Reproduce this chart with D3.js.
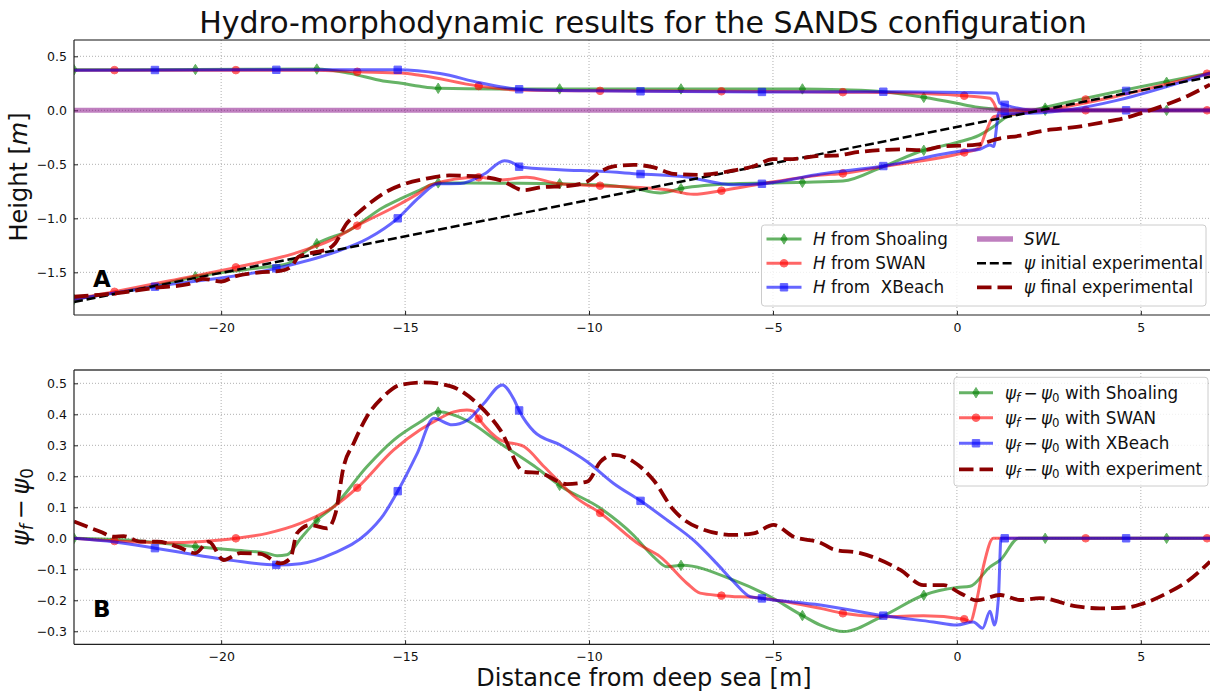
<!DOCTYPE html>
<html>
<head>
<meta charset="utf-8">
<script src="https://cdn.jsdelivr.net/npm/d3@7"></script>
<style>
  body { margin: 0; background: #fff; }
  svg { display: block; font-family: "DejaVu Sans", sans-serif; }
  text { white-space: pre; }
</style>
</head>
<body>
<svg id="chart" width="1210" height="693"></svg>
<script>
// ---------- axis limits and ticks ----------
const X_DOMAIN = [-24, 6.88];
const Y_DOMAIN_A = [-1.895, 0.651];
const Y_DOMAIN_B = [-0.342, 0.543];
const X_TICKS = [-20, -15, -10, -5, 0, 5];
const Y_TICKS_A = [0.5, 0.0, -0.5, -1.0, -1.5];
const Y_TICKS_B = [0.5, 0.4, 0.3, 0.2, 0.1, 0.0, -0.1, -0.2, -0.3];

// ---------- panel A: wave heights H (upper) and bed profiles psi (lower) ----------
const shoalingH = [[-24, 0.375], [-20.7, 0.378], [-17.4, 0.382], [-16.5, 0.342], [-15.6, 0.272], [-15.1, 0.25],
  [-14.6, 0.222], [-14.1, 0.204], [-12.5, 0.198], [-8, 0.198], [-4.2, 0.198], [-3.1, 0.19], [-2.0, 0.172],
  [-0.9, 0.12], [0, 0.065], [0.5, 0.032], [1.0, 0.012], [1.6, 0], [6.88, 0]];
const swanH = [[-24, 0.372], [-17.5, 0.372], [-16.3, 0.357], [-15.1, 0.345], [-14.6, 0.325], [-13.0, 0.225],
  [-11.9, 0.188], [-9.7, 0.18], [-6.4, 0.176], [-3.1, 0.168], [-2.0, 0.165], [0.2, 0.135], [0.9, 0.112],
  [1.0, 0.07], [1.1, 0.005], [1.4, 0], [6.88, 0]];
const xbeachH = [[-24, 0.372], [-18.5, 0.375], [-15.2, 0.375], [-14.05, 0.34], [-12.96, 0.255], [-11.9, 0.195],
  [-10, 0.18], [-8.6, 0.176], [-5.3, 0.17], [-2.0, 0.172], [0.18, 0.165], [1.08, 0.157], [1.17, 0.065],
  [1.31, 0.05], [1.8, 0.01], [2.2, 0], [6.88, 0]];

const shoalingPsi = [[-24, -1.75], [-22.9, -1.69], [-21.8, -1.625], [-20.7, -1.54], [-19.7, -1.49], [-19.0, -1.46],
  [-18.2, -1.42], [-17.8, -1.33], [-17.4, -1.235], [-16.5, -1.108], [-15.6, -0.9], [-15.1, -0.815], [-14.6, -0.738],
  [-14.1, -0.672], [-13.4, -0.672], [-12.4, -0.675], [-10.8, -0.68], [-9.7, -0.69], [-8.8, -0.722], [-8.06, -0.765],
  [-7.47, -0.722], [-6.07, -0.68], [-4.2, -0.667], [-3.1, -0.655], [-2.0, -0.52], [-0.9, -0.37], [0, -0.298],
  [0.6, -0.232], [1.0, -0.15], [1.35, -0.06], [1.7, -0.03], [6.88, 0.345]];
const swanPsi = [[-24, -1.75], [-22.9, -1.68], [-21.5, -1.585], [-19.6, -1.454], [-18.0, -1.324], [-17.0, -1.2],
  [-16.3, -1.068], [-15.1, -0.86], [-14.6, -0.76], [-14.3, -0.69], [-13.0, -0.62], [-12.4, -0.645], [-11.7, -0.62],
  [-10.8, -0.68], [-9.7, -0.698], [-7.9, -0.735], [-7.16, -0.778], [-6.4, -0.744], [-5.3, -0.68], [-3.7, -0.6],
  [-3.1, -0.584], [-2.0, -0.52], [0.2, -0.39], [0.6, -0.35], [0.8, -0.19], [1.0, -0.06], [1.3, -0.045],
  [1.7, -0.03], [6.88, 0.345]];
const xbeachPsi = [[-24, -1.75], [-21.8, -1.633], [-18.5, -1.463], [-17.0, -1.324], [-16.0, -1.185], [-15.2, -1.0],
  [-14.6, -0.8], [-14.1, -0.68], [-13.5, -0.678], [-12.85, -0.59], [-12.3, -0.466], [-12.05, -0.49], [-11.9, -0.522],
  [-10.8, -0.55], [-9.7, -0.565], [-8.6, -0.59], [-7.4, -0.615], [-6.07, -0.69], [-5.3, -0.68], [-3.7, -0.59],
  [-2.0, -0.516], [0.18, -0.375], [0.63, -0.36], [0.9, -0.32], [1.0, -0.336], [1.08, -0.15], [1.13, -0.02],
  [1.31, -0.03], [1.7, -0.03], [6.88, 0.345]];

const swl = [[-24, 0], [6.88, 0]];
const psiInitial = [[-24, -1.775], [6.88, 0.311]];
const psiFinal = [[-24, -1.726], [-22.9, -1.695], [-21.7, -1.64], [-20.9, -1.61], [-20.5, -1.56], [-20.0, -1.585],
  [-19.6, -1.535], [-19.0, -1.502], [-18.4, -1.487], [-18.1, -1.45], [-17.9, -1.356], [-17.5, -1.317], [-17.1, -1.285],
  [-16.9, -1.23], [-16.6, -1.053], [-16.3, -0.957], [-15.9, -0.844], [-15.5, -0.752], [-15.0, -0.68], [-14.5, -0.638],
  [-13.8, -0.603], [-13.1, -0.61], [-12.4, -0.648], [-11.77, -0.74], [-11.3, -0.713], [-10.6, -0.701], [-10.05, -0.659],
  [-9.69, -0.567], [-9.33, -0.52], [-8.79, -0.505], [-8.24, -0.528], [-7.7, -0.588], [-6.97, -0.597], [-6.07, -0.557],
  [-5.53, -0.518], [-5.0, -0.452], [-4.46, -0.451], [-3.71, -0.421], [-3.36, -0.42], [-2.64, -0.385], [-1.55, -0.362],
  [-0.92, -0.369], [-0.38, -0.333], [0.09, -0.327], [0.54, -0.318], [1.18, -0.26], [1.72, -0.235], [2.26, -0.194],
  [3.26, -0.153], [3.89, -0.116], [4.62, -0.066], [5.07, -0.02], [5.71, 0.055], [6.26, 0.131], [6.88, 0.238]];

// ---------- panel B: bed change psi_f - psi_0 ----------
const shoalingDiff = [[-24, 0], [-22.4, -0.007], [-20.67, -0.027], [-19.66, -0.038], [-18.75, -0.048], [-18.48, -0.056],
  [-18.21, -0.053], [-17.85, -0.002], [-17.39, 0.059], [-16.94, 0.102], [-16.04, 0.231], [-15.31, 0.317], [-14.59, 0.375],
  [-14.09, 0.408], [-13.32, 0.38], [-12.41, 0.306], [-11.5, 0.234], [-10.78, 0.169], [-9.69, 0.097], [-8.79, 0.01],
  [-8.25, -0.059], [-7.88, -0.092], [-7.47, -0.087], [-6.07, -0.135], [-5.16, -0.183], [-4.19, -0.25], [-3.71, -0.28],
  [-3.08, -0.301], [-2.0, -0.25], [-0.89, -0.183], [0, -0.159], [0.36, -0.155], [0.9, -0.092], [1.18, -0.07],
  [1.68, 0], [6.88, 0]];
const swanDiff = [[-24, 0], [-22.88, -0.009], [-21.47, -0.014], [-20.5, -0.01], [-19.59, 0.0], [-18.75, 0.016],
  [-17.85, 0.048], [-16.94, 0.102], [-16.29, 0.164], [-15.31, 0.285], [-14.59, 0.35], [-14.22, 0.376], [-13.68, 0.408],
  [-13.32, 0.414], [-13.15, 0.41], [-12.99, 0.384], [-12.41, 0.317], [-11.77, 0.296], [-11.22, 0.231], [-10.33, 0.129],
  [-9.69, 0.081], [-8.61, -0.022], [-8.07, -0.059], [-7.34, -0.145], [-6.98, -0.177], [-6.4, -0.185], [-5.3, -0.193],
  [-3.71, -0.226], [-3.1, -0.242], [-2.0, -0.253], [-0.91, -0.25], [0.2, -0.261], [0.36, -0.269], [0.54, -0.199],
  [0.72, -0.091], [0.99, 0], [6.88, 0]];
const xbeachDiff = [[-24, 0], [-22.9, -0.012], [-21.79, -0.032], [-20.56, -0.056], [-19.66, -0.072], [-18.48, -0.086],
  [-17.85, -0.082], [-16.94, -0.048], [-16.04, 0.016], [-15.59, 0.075], [-15.19, 0.154], [-14.67, 0.274], [-14.22, 0.387],
  [-13.72, 0.366], [-13.32, 0.38], [-12.86, 0.435], [-12.36, 0.495], [-12.05, 0.45], [-11.89, 0.41], [-11.5, 0.345],
  [-10.78, 0.301], [-10.05, 0.247], [-9.33, 0.177], [-8.59, 0.12], [-7.88, 0.059], [-7.16, -0.006], [-6.53, -0.081],
  [-6.07, -0.14], [-5.62, -0.188], [-5.3, -0.194], [-3.71, -0.215], [-1.98, -0.25], [-0.64, -0.27], [0, -0.28],
  [0.45, -0.27], [0.7, -0.29], [0.9, -0.235], [1.02, -0.28], [1.13, -0.19], [1.2, 0], [6.88, 0]];
const experimentDiff = [[-24, 0.054], [-23.28, 0.021], [-22.92, 0.005], [-22.65, 0.007], [-22.19, -0.011],
  [-21.73, -0.011], [-21.19, -0.027], [-20.7, -0.048], [-20.34, -0.011], [-19.93, -0.07], [-19.48, -0.048],
  [-18.93, -0.05], [-18.39, -0.081], [-18.12, -0.065], [-17.94, 0.016], [-17.58, 0.043], [-17.12, 0.032],
  [-16.89, 0.081], [-16.67, 0.231], [-16.4, 0.306], [-16.04, 0.392], [-15.59, 0.457], [-15.13, 0.495], [-14.49, 0.503],
  [-13.77, 0.491], [-13.04, 0.435], [-12.41, 0.349], [-11.77, 0.215], [-11.32, 0.21], [-10.6, 0.175], [-10.05, 0.183],
  [-9.69, 0.247], [-9.33, 0.269], [-8.79, 0.247], [-8.25, 0.188], [-7.7, 0.091], [-6.98, 0.032], [-6.07, 0.011],
  [-5.53, 0.016], [-4.98, 0.043], [-4.44, 0.005], [-3.71, -0.014], [-3.35, -0.036], [-2.63, -0.048], [-1.54, -0.102],
  [-0.91, -0.151], [-0.36, -0.151], [0.09, -0.177], [0.54, -0.2], [1.18, -0.183], [1.72, -0.199], [2.26, -0.193],
  [3.26, -0.22], [3.89, -0.226], [4.62, -0.223], [5.07, -0.21], [5.71, -0.177], [6.25, -0.14], [6.88, -0.075]];

// marker stations along the profile for each model
const markShoaling = [-24, -20.7, -17.4, -14.1, -10.8, -7.5, -4.2, -0.9, 2.4, 5.7];
const markSwan = [-22.9, -19.6, -16.3, -13.0, -9.7, -6.4, -3.1, 0.2, 3.5, 6.8];
const markXBeach = [-21.8, -18.5, -15.2, -11.9, -8.6, -5.3, -2.0, 1.3, 4.6];

// ---------- styles ----------
const GREEN = "#008000", RED = "#ff0000", BLUE = "#0000ff", PURPLE = "#800080", DARKRED = "#8b0000";
const MODEL_ALPHA = 0.6, MODEL_WIDTH = 3;

const svg = d3.select("#chart");
const x = d3.scaleLinear().domain(X_DOMAIN).range([74, 1210]);

function interp(data, xv) {
  for (let i = 0; i < data.length - 1; i++) {
    const [x0, y0] = data[i], [x1, y1] = data[i + 1];
    if (xv >= x0 && xv <= x1) return y0 + (y1 - y0) * (xv - x0) / (x1 - x0);
  }
  return data[data.length - 1][1];
}

function markerPath(shape) {
  if (shape === "diamond") return "M0,-5.2L3.2,0L0,5.2L-3.2,0Z";
  if (shape === "square") return "M-3.7,-3.7H3.7V3.7H-3.7Z";
  return d3.symbol(d3.symbolCircle, Math.PI * 3.8 * 3.8)();
}

function makePanel(id, yDomain, yRange, yTicks) {
  const y = d3.scaleLinear().domain(yDomain).range(yRange);
  const g = svg.append("g");
  const [x0, x1] = x.range();
  const [yb, yt] = yRange;
  svg.append("clipPath").attr("id", id).append("rect")
    .attr("x", x0).attr("y", yt).attr("width", x1 - x0).attr("height", yb - yt);

  // dotted grid
  const grid = g.append("g").attr("stroke", "#b0b0b0").attr("stroke-width", 1).attr("stroke-dasharray", "1,2");
  X_TICKS.forEach(t => grid.append("line").attr("x1", x(t)).attr("x2", x(t)).attr("y1", yt).attr("y2", yb));
  yTicks.forEach(t => grid.append("line").attr("x1", x0).attr("x2", x1).attr("y1", y(t)).attr("y2", y(t)));

  // axes with inward ticks
  const xAxis = d3.axisBottom(x).tickValues(X_TICKS).tickSizeInner(-4).tickSizeOuter(0).tickPadding(8)
    .tickFormat(d3.format("d"));
  const gx = g.append("g").attr("transform", `translate(0,${yb})`).call(xAxis);
  const yAxis = d3.axisLeft(y).tickValues(yTicks).tickSizeInner(-4).tickSizeOuter(0).tickPadding(7)
    .tickFormat(d3.format(".1f"));
  const gy = g.append("g").attr("transform", `translate(${x0},0)`).call(yAxis);
  [gx, gy].forEach(a => {
    a.selectAll("text").attr("font-size", 12.5).attr("font-family", "DejaVu Sans").attr("fill", "#111");
    a.selectAll(".tick line").attr("stroke", "#222");
    a.select(".domain").remove();
  });

  const plot = g.append("g").attr("clip-path", `url(#${id})`);
  return { g, plot, y, x0, x1, yt, yb };
}

function drawLine(p, data, color, opts = {}) {
  const line = d3.line().x(d => x(d[0])).y(d => p.y(d[1])).curve(opts.curve || d3.curveMonotoneX);
  p.plot.append("path").datum(data).attr("d", line)
    .attr("fill", "none").attr("stroke", color)
    .attr("stroke-width", opts.width || MODEL_WIDTH)
    .attr("stroke-opacity", opts.alpha == null ? MODEL_ALPHA : opts.alpha)
    .attr("stroke-dasharray", opts.dash || null)
    .attr("stroke-linejoin", "round");
}

function drawMarkers(p, data, stations, shape, color) {
  const d = markerPath(shape);
  p.plot.selectAll(null).data(stations.filter(s => s >= X_DOMAIN[0] && s <= X_DOMAIN[1])).enter()
    .append("path").attr("d", d)
    .attr("transform", s => `translate(${x(s)},${p.y(interp(data, s))})`)
    .attr("fill", color).attr("stroke", color).attr("stroke-width", 1).attr("opacity", MODEL_ALPHA);
}

function drawFrame(p, topColor, topWidth) {
  const f = p.g.append("g");
  f.append("line").attr("x1", p.x0).attr("x2", p.x1).attr("y1", p.yt).attr("y2", p.yt)
    .attr("stroke", topColor).attr("stroke-width", topWidth);
  f.append("line").attr("x1", p.x0).attr("x2", p.x1).attr("y1", p.yb).attr("y2", p.yb)
    .attr("stroke", "#222").attr("stroke-width", 1.2);
  f.append("line").attr("x1", p.x0).attr("x2", p.x0).attr("y1", p.yt).attr("y2", p.yb)
    .attr("stroke", "#222").attr("stroke-width", 1.2);
}

// ---------- panel A ----------
const A = makePanel("clipA", Y_DOMAIN_A, [315, 40], Y_TICKS_A);
[[shoalingH, shoalingPsi, markShoaling, "diamond", GREEN],
 [swanH, swanPsi, markSwan, "circle", RED],
 [xbeachH, xbeachPsi, markXBeach, "square", BLUE]].forEach(([h, psi, st, shape, col]) => {
  drawLine(A, h, col); drawMarkers(A, h, st, shape, col);
  drawLine(A, psi, col); drawMarkers(A, psi, st, shape, col);
});
drawLine(A, swl, PURPLE, { width: 5, alpha: 0.5, curve: d3.curveLinear });
drawLine(A, psiInitial, "#000", { width: 2.5, alpha: 1, dash: "9,3.8", curve: d3.curveLinear });
drawLine(A, psiFinal, DARKRED, { width: 3.8, alpha: 1, dash: "14.5,6" });
drawFrame(A, "#111", 1.2);

// ---------- panel B ----------
const B = makePanel("clipB", Y_DOMAIN_B, [644.3, 370], Y_TICKS_B);
[[shoalingDiff, markShoaling, "diamond", GREEN],
 [swanDiff, markSwan, "circle", RED],
 [xbeachDiff, markXBeach, "square", BLUE]].forEach(([dat, st, shape, col]) => {
  drawLine(B, dat, col); drawMarkers(B, dat, st, shape, col);
});
drawLine(B, experimentDiff, DARKRED, { width: 3.8, alpha: 1, dash: "14.5,6" });
drawFrame(B, "#6e6e6e", 2);

// ---------- legends ----------
function legendBox(x0, y0, w, h) {
  svg.append("rect").attr("x", x0).attr("y", y0).attr("width", w).attr("height", h).attr("rx", 3)
    .attr("fill", "#fff").attr("fill-opacity", 0.8).attr("stroke", "#cccccc").attr("stroke-width", 1);
}
function legendHandle(hx0, hx1, cy, color, o) {
  svg.append("line").attr("x1", hx0).attr("x2", hx1).attr("y1", cy).attr("y2", cy)
    .attr("stroke", color).attr("stroke-width", o.width || MODEL_WIDTH)
    .attr("stroke-opacity", o.alpha == null ? MODEL_ALPHA : o.alpha)
    .attr("stroke-dasharray", o.dash || null);
  if (o.shape) {
    svg.append("path").attr("d", markerPath(o.shape))
      .attr("transform", `translate(${(hx0 + hx1) / 2},${cy})`)
      .attr("fill", color).attr("stroke", color).attr("opacity", MODEL_ALPHA);
  }
}
// parts: array of [text, style] with style in {"i", "sub", "subi", ""}
function richText(tx, ty, parts, size) {
  const t = svg.append("text").attr("x", tx).attr("y", ty).attr("font-size", size).attr("fill", "#111");
  parts.forEach(([s, st]) => {
    const sp = t.append("tspan").text(s);
    if (st === "i" || st === "subi") sp.attr("font-style", "italic");
    if (st === "sub" || st === "subi") sp.attr("font-size", size * 0.7).attr("baseline-shift", "-22%");
  });
  return t;
}
const psiDiffParts = [["ψ", "i"], ["f", "subi"], ["\u2009−\u2009", ""], ["ψ", "i"], ["0", "sub"]];

// legend A (two columns)
legendBox(761.5, 225, 444.5, 81);
const rowsA = [239, 263.3, 287.3];
const FS_LEG = 16.8;
legendHandle(766.5, 801.5, rowsA[0], GREEN, { shape: "diamond" });
richText(813, rowsA[0] + 6, [["H", "i"], [" from Shoaling", ""]], FS_LEG);
legendHandle(766.5, 801.5, rowsA[1], RED, { shape: "circle" });
richText(813, rowsA[1] + 6, [["H", "i"], [" from SWAN", ""]], FS_LEG);
legendHandle(766.5, 801.5, rowsA[2], BLUE, { shape: "square" });
richText(813, rowsA[2] + 6, [["H", "i"], [" from  XBeach", ""]], FS_LEG);
legendHandle(977, 1013, rowsA[0], PURPLE, { width: 5.5, alpha: 0.5 });
richText(1024, rowsA[0] + 6, [["SWL", "i"]], FS_LEG);
legendHandle(977, 1013, rowsA[1], "#000", { width: 2.5, alpha: 1, dash: "9,3.8" });
richText(1024, rowsA[1] + 6, [["ψ", "i"], [" initial experimental", ""]], FS_LEG);
legendHandle(977, 1013, rowsA[2], DARKRED, { width: 3.8, alpha: 1, dash: "14.5,6" });
richText(1024, rowsA[2] + 6, [["ψ", "i"], [" final experimental", ""]], FS_LEG);

// legend B
legendBox(954, 377.3, 254, 108.7);
const rowsB = [392.7, 417.7, 443.3, 469.3];
legendHandle(959, 993, rowsB[0], GREEN, { shape: "diamond" });
richText(1005, rowsB[0] + 6, psiDiffParts.concat([[" with Shoaling", ""]]), FS_LEG);
legendHandle(959, 993, rowsB[1], RED, { shape: "circle" });
richText(1005, rowsB[1] + 6, psiDiffParts.concat([[" with SWAN", ""]]), FS_LEG);
legendHandle(959, 993, rowsB[2], BLUE, { shape: "square" });
richText(1005, rowsB[2] + 6, psiDiffParts.concat([[" with XBeach", ""]]), FS_LEG);
legendHandle(959, 993, rowsB[3], DARKRED, { width: 3.8, alpha: 1, dash: "14.5,6" });
richText(1005, rowsB[3] + 6, psiDiffParts.concat([[" with experiment", ""]]), FS_LEG);

// ---------- titles and labels ----------
svg.append("text").attr("x", 643).attr("y", 33).attr("text-anchor", "middle")
  .attr("font-size", 30).attr("fill", "#111").text("Hydro-morphodynamic results for the SANDS configuration");
svg.append("text").attr("x", 644).attr("y", 686).attr("text-anchor", "middle")
  .attr("font-size", 24).attr("fill", "#111").text("Distance from deep sea [m]");

richText(0, 0, [["Height [", ""], ["m", "i"], ["]", ""]], 24)
  .attr("text-anchor", "middle").attr("transform", "translate(27,177) rotate(-90)");
richText(0, 0, [["ψ", "i"], ["f", "subi"], ["\u2009−\u2009", ""], ["ψ", "i"], ["0", "sub"]], 24)
  .attr("text-anchor", "middle").attr("transform", "translate(29,507) rotate(-90)");

svg.append("text").attr("x", 93).attr("y", 287).attr("font-size", 23).attr("font-weight", "bold")
  .attr("fill", "#000").text("A");
svg.append("text").attr("x", 93).attr("y", 617).attr("font-size", 23).attr("font-weight", "bold")
  .attr("fill", "#000").text("B");
</script>
</body>
</html>
